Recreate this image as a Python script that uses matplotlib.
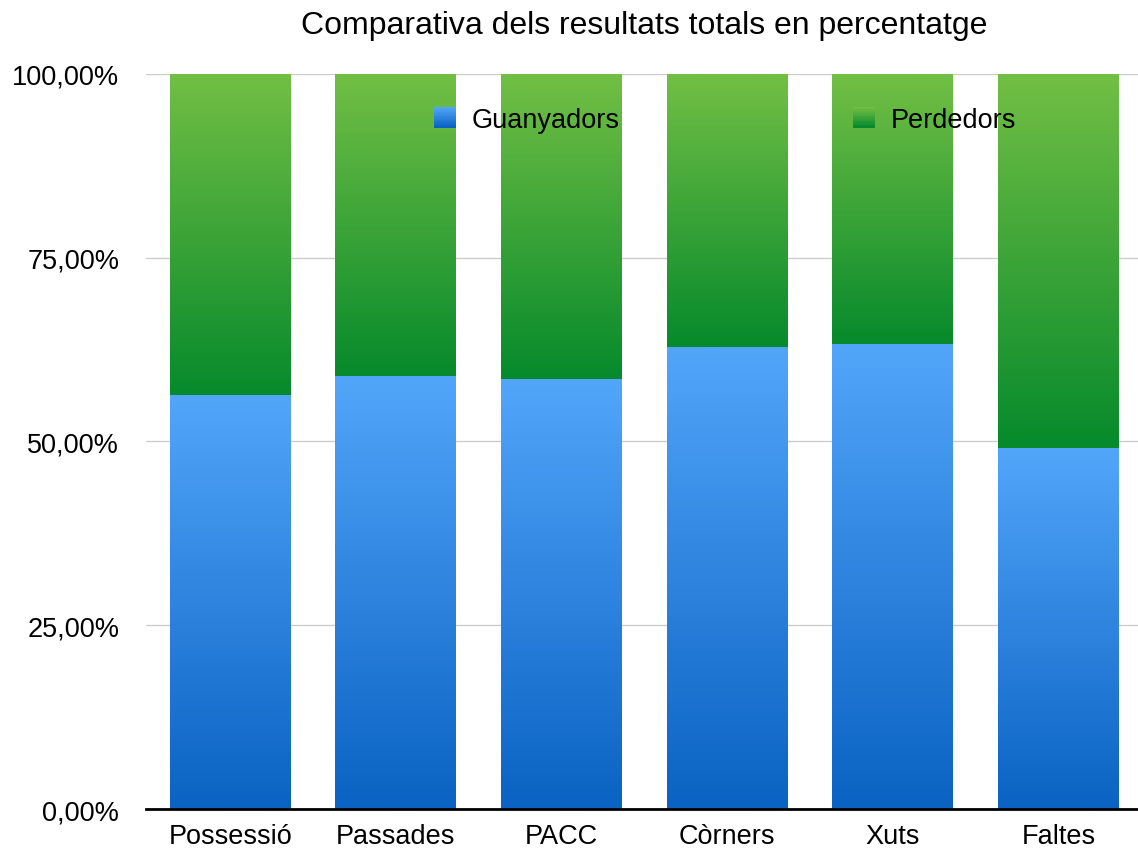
import numpy as np
import matplotlib.pyplot as plt
from matplotlib.colors import LinearSegmentedColormap
from matplotlib.legend_handler import HandlerBase
from matplotlib.patches import Rectangle
from matplotlib.ticker import FuncFormatter

plt.rcParams['font.family'] = ['Liberation Sans', 'DejaVu Sans']

categories = ["Possessió", "Passades", "PACC", "Còrners", "Xuts", "Faltes"]
guanyadors = [56.3, 58.9, 58.5, 62.9, 63.3, 49.1]
perdedors = [100 - g for g in guanyadors]
yticks = [0, 25, 50, 75, 100]

blue = LinearSegmentedColormap.from_list("blue", ["#0a62c2", "#52a6fa"])
green = LinearSegmentedColormap.from_list("green", ["#068a2c", "#72bf44"])
grad = np.linspace(0, 1, 256).reshape(-1, 1)


class GradHandler(HandlerBase):
    # legend square with the same vertical gradient as the bars
    def __init__(self, cmap):
        super().__init__()
        self.cmap = cmap

    def create_artists(self, legend, orig, xd, yd, w, h, fs, trans):
        n = 16
        arts = []
        for i in range(n):
            arts.append(Rectangle((-xd, -yd + i * h / n), w, h / n + 0.2,
                                  color=self.cmap(i / (n - 1)), transform=trans, lw=0))
        return arts


fig = plt.figure(figsize=(11.38, 8.53), dpi=100)
ax = fig.add_axes([0.128, 0.0504, 0.872, 0.8617])

x = np.arange(len(categories))
width = 0.73
b1 = ax.bar(x, guanyadors, width, color="none", zorder=3)
b2 = ax.bar(x, perdedors, width, bottom=guanyadors, color="none", zorder=3)

for bars, cmap in ((b1, blue), (b2, green)):
    for p in bars:
        x0, y0 = p.get_x(), p.get_y()
        im = ax.imshow(grad, cmap=cmap, origin="lower", aspect="auto",
                       extent=(x0, x0 + p.get_width(), y0, y0 + p.get_height()), zorder=2)
        im.set_clip_path(p)

ax.set_xlim(-0.51, 5.48)
ax.set_ylim(0, 100)
ax.set_yticks(yticks)
ax.yaxis.set_major_formatter(FuncFormatter(lambda v, _: f"{v:.2f}".replace(".", ",") + "%"))
ax.set_xticks(x)
ax.set_xticklabels(categories)
ax.tick_params(axis="both", length=0, labelsize=19.5, colors="black")
ax.tick_params(axis="x", pad=10)
ax.tick_params(axis="y", pad=19)
ax.grid(axis="y", color="#cccccc", lw=1, zorder=1)
for s in ("left", "right", "top"):
    ax.spines[s].set_visible(False)
ax.spines["bottom"].set_linewidth(2)
ax.spines["bottom"].set_zorder(4)

h1 = Rectangle((0, 0), 1, 1)
h2 = Rectangle((0, 0), 1, 1)
ax.legend([h1, h2], ["Guanyadors", "Perdedors"], ncol=2, frameon=False,
          loc="upper left", bbox_to_anchor=(0.277, 0.974), borderpad=0,
          handlelength=0.8, handleheight=0.8, handletextpad=0.6, columnspacing=8.6,
          fontsize=19.5, handler_map={h1: GradHandler(blue), h2: GradHandler(green)})

fig.text(0.566, 0.97, "Comparativa dels resultats totals en percentatge",
         ha="center", va="center", fontsize=23)

fig.savefig("out.png", dpi=100)
